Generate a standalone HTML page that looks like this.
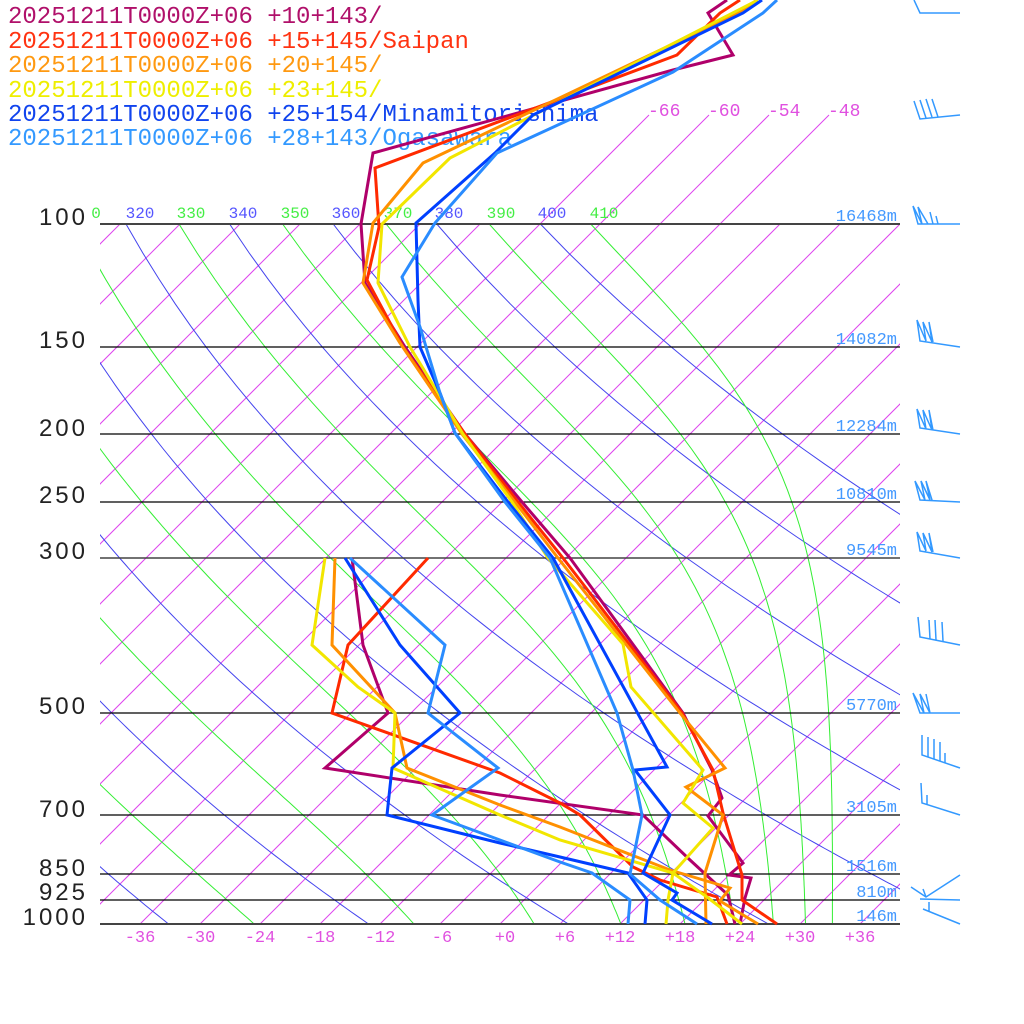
<!DOCTYPE html>
<html><head><meta charset="utf-8"><style>
html,body{margin:0;padding:0;background:#fff;}
svg{display:block;}
.lg{font-family:"Liberation Mono",monospace;font-size:24px;}
.th{font-family:"Liberation Mono",monospace;font-size:16px;text-anchor:middle;}
.it{font-family:"Liberation Mono",monospace;font-size:18px;fill:#e050e0;}
.bt{font-family:"Liberation Mono",monospace;font-size:17px;fill:#e050e0;text-anchor:middle;}
.pl{font-family:"Liberation Sans",sans-serif;font-size:24px;fill:#222;text-anchor:end;letter-spacing:3px;}
.hl{font-family:"Liberation Mono",monospace;font-size:17px;fill:#4499ff;text-anchor:end;}
.d{fill:none;stroke-width:3;stroke-linejoin:miter;}
.wb{fill:none;stroke:#3399ff;stroke-width:1.5;}
</style></head><body>
<svg id="s" width="1024" height="1024" viewBox="0 0 1024 1024" xmlns="http://www.w3.org/2000/svg">
<defs><clipPath id="c"><rect x="100" y="224" width="800" height="700"/></clipPath></defs>
<g id="grid" clip-path="url(#c)"></g>
<g id="iso2"></g>
<g stroke="#000" stroke-width="1.2">
<line x1="100" y1="224" x2="900" y2="224" stroke="#444" stroke-width="2"/>
<line x1="100" y1="347" x2="900" y2="347"/>
<line x1="100" y1="434" x2="900" y2="434"/>
<line x1="100" y1="502" x2="900" y2="502"/>
<line x1="100" y1="558" x2="900" y2="558" stroke="#444" stroke-width="1.6"/>
<line x1="100" y1="713" x2="900" y2="713"/>
<line x1="100" y1="815" x2="900" y2="815"/>
<line x1="100" y1="874" x2="900" y2="874"/>
<line x1="100" y1="900" x2="900" y2="900"/>
<line x1="100" y1="924" x2="900" y2="924" stroke="#444" stroke-width="2"/>
</g>
<g>
<text class="th" x="96" y="218" fill="#44ee44">0</text>
<text class="th" x="140" y="218" fill="#5555ff">320</text>
<text class="th" x="191" y="218" fill="#44ee44">330</text>
<text class="th" x="243" y="218" fill="#5555ff">340</text>
<text class="th" x="295" y="218" fill="#44ee44">350</text>
<text class="th" x="346" y="218" fill="#5555ff">360</text>
<text class="th" x="398" y="218" fill="#44ee44">370</text>
<text class="th" x="449" y="218" fill="#5555ff">380</text>
<text class="th" x="501" y="218" fill="#44ee44">390</text>
<text class="th" x="552" y="218" fill="#5555ff">400</text>
<text class="th" x="604" y="218" fill="#44ee44">410</text>
</g>
<text class="it" x="648" y="116">-66</text>
<text class="it" x="708" y="116">-60</text>
<text class="it" x="768" y="116">-54</text>
<text class="it" x="828" y="116">-48</text>
<g>
<text class="bt" x="140" y="942">-36</text><text class="bt" x="200" y="942">-30</text>
<text class="bt" x="260" y="942">-24</text><text class="bt" x="320" y="942">-18</text>
<text class="bt" x="380" y="942">-12</text><text class="bt" x="442" y="942">-6</text>
<text class="bt" x="505" y="942">+0</text><text class="bt" x="565" y="942">+6</text>
<text class="bt" x="620" y="942">+12</text><text class="bt" x="680" y="942">+18</text>
<text class="bt" x="740" y="942">+24</text><text class="bt" x="800" y="942">+30</text>
<text class="bt" x="860" y="942">+36</text>
</g>
<g>
<text class="pl" x="88" y="225">100</text>
<text class="pl" x="88" y="348">150</text>
<text class="pl" x="88" y="436">200</text>
<text class="pl" x="88" y="503">250</text>
<text class="pl" x="88" y="559">300</text>
<text class="pl" x="88" y="714">500</text>
<text class="pl" x="88" y="817">700</text>
<text class="pl" x="88" y="876">850</text>
<text class="pl" x="88" y="900">925</text>
<text class="pl" x="88" y="925">1000</text>
</g>
<g>
<text class="hl" x="897" y="221">16468m</text>
<text class="hl" x="897" y="344">14082m</text>
<text class="hl" x="897" y="431">12284m</text>
<text class="hl" x="897" y="499">10810m</text>
<text class="hl" x="897" y="555">9545m</text>
<text class="hl" x="897" y="710">5770m</text>
<text class="hl" x="897" y="812">3105m</text>
<text class="hl" x="897" y="871">1516m</text>
<text class="hl" x="897" y="897">810m</text>
<text class="hl" x="897" y="921">146m</text>
</g>
<g>
<text class="lg" x="8" y="23" fill="#b0106a">20251211T0000Z+06 +10+143/</text>
<text class="lg" x="8" y="48" fill="#ff3311">20251211T0000Z+06 +15+145/Saipan</text>
<text class="lg" x="8" y="72" fill="#ff9911">20251211T0000Z+06 +20+145/</text>
<text class="lg" x="8" y="97" fill="#eeee00">20251211T0000Z+06 +23+145/</text>
<text class="lg" x="8" y="121" fill="#1144ee">20251211T0000Z+06 +25+154/Minamitorishima</text>
<text class="lg" x="8" y="145" fill="#3399ff">20251211T0000Z+06 +28+143/Ogasawara</text>
</g>
<g>
<polyline class="d" stroke="#b0006a" points="727,0 708,13 733,55 673,70 373,153 361,224 365,283 405,347 465,434 522,502 570,558 683,713 712,770 722,798 708,816 743,863 729,875 751,878 745,898 740,924"/>
<polyline class="d" stroke="#b0006a" points="352,558 363,645 388,713 325,768 500,795 643,815 690,860 728,895 735,924"/>
<polyline class="d" stroke="#ff2a00" points="740,0 720,13 677,55 375,168 379,227 367,280 403,347 465,434 518,502 563,558 682,713 713,770 723,813 742,875 742,900 777,924"/>
<polyline class="d" stroke="#ff2a00" points="428,558 348,645 332,713 500,773 560,803 580,815 633,867 660,880 717,897 727,924"/>
<polyline class="d" stroke="#ff9000" points="757,0 738,13 423,163 373,223 363,283 400,343 462,434 515,502 558,558 680,713 725,768 686,787 723,815 705,873 706,924"/>
<polyline class="d" stroke="#ff9000" points="335,558 332,645 395,713 407,768 500,805 560,827 670,870 730,888 720,901 758,924"/>
<polyline class="d" stroke="#f2e600" points="758,0 450,158 382,224 378,283 410,347 463,434 512,502 548,558 623,644 631,687 703,770 683,803 713,828 673,873 668,900 666,924"/>
<polyline class="d" stroke="#f2e600" points="325,558 312,645 358,687 395,713 393,768 500,815 560,840 673,873 707,897 742,924"/>
<polyline class="d" stroke="#0040ff" points="762,0 743,13 533,115 495,153 416,223 418,300 420,347 440,393 455,433 508,502 553,558 667,767 635,770 670,815 643,873 677,893 672,900 712,924"/>
<polyline class="d" stroke="#0040ff" points="345,558 400,645 460,713 392,768 387,815 500,843 560,857 628,873 647,900 645,924"/>
<polyline class="d" stroke="#2a8cff" points="777,0 763,13 673,72 497,153 435,223 402,277 420,327 440,393 455,433 505,502 550,558 617,713 633,770 642,815 630,874 660,900 697,924"/>
<polyline class="d" stroke="#2a8cff" points="350,558 445,645 428,713 498,768 432,815 500,840 560,862 592,873 630,900 628,924"/>
</g>
<g class="wb">
<polyline points="914,0 920,13 960,13"/>
<polyline points="960,115 920,119 914,101"/>
<line x1="926" y1="118" x2="920" y2="100"/><line x1="932" y1="117" x2="926" y2="99"/><line x1="938" y1="117" x2="932" y2="99"/>
<polyline points="960,224 918,224 913,206 922,224 918,207 928,224"/>
<line x1="933" y1="224" x2="930" y2="212"/><line x1="938" y1="224" x2="936" y2="216"/>
<polyline points="960,347 920,341 917,320 926,341 923,322 932,342 929,322 933,342"/>
<polyline points="960,434 920,428 917,409 926,429 923,410 932,430 929,410 933,430"/>
<polyline points="960,502 920,500 915,481 925,500 921,481 930,500 926,481 932,500"/>
<polyline points="960,558 920,551 917,532 926,551 923,533 932,552 929,533 933,552"/>
<polyline points="960,645 920,637 918,617"/>
<line x1="930" y1="639" x2="929" y2="620"/><line x1="936" y1="640" x2="935" y2="620"/><line x1="943" y1="641" x2="942" y2="622"/>
<polyline points="960,713 920,713 913,693 924,713 920,694 930,713 926,694"/>
<polyline points="960,768 922,755 922,735"/>
<line x1="928" y1="757" x2="928" y2="737"/><line x1="934" y1="759" x2="934" y2="739"/><line x1="940" y1="761" x2="940" y2="742"/><line x1="945" y1="763" x2="945" y2="753"/>
<polyline points="960,815 922,803 921,783"/>
<line x1="927" y1="805" x2="927" y2="795"/>
<polyline points="911,887 926,897 960,875"/>
<line x1="923" y1="889" x2="926" y2="897"/>
<line x1="920" y1="899" x2="960" y2="900"/>
<polyline points="960,924 923,909"/>
<line x1="929" y1="912" x2="929" y2="902"/>
</g>
</svg>
<script>
(function(){
var NS="http://www.w3.org/2000/svg";
function Y(p){return 224+304*Math.log(p/100);}
function X(T,p){return 500+10*T+(924-Y(p));}
var g=document.getElementById("grid");
function pl(pts,col,par){var e=document.createElementNS(NS,"polyline");e.setAttribute("points",pts.map(function(a){return a[0].toFixed(1)+","+a[1].toFixed(1);}).join(" "));e.setAttribute("fill","none");e.setAttribute("stroke",col);e.setAttribute("stroke-width","1");(par||g).appendChild(e);}
for(var T=-120;T<=60;T+=6){pl([[X(T,1000),924],[X(T,100),224]],"#dd44ee");}
var g2=document.getElementById("iso2");
[-66,-60,-54,-48].forEach(function(T){var x0=X(T,100);pl([[x0,224],[x0+109,115]],"#dd44ee",g2);});
for(var th=180;th<=400;th+=20){var pts=[];for(var p=90;p<=1010;p+=10){var t=th*Math.pow(p/1000,0.2857)-273.15;pts.push([X(t,p),Y(p)]);}pl(pts,"#4444ee");}
function thetae(T,p){var Tc=T-273.15;var es=6.112*Math.exp(17.67*Tc/(Tc+243.5));var r=622*es/(p-es);return T*Math.pow(1000/p,0.2854*(1-0.00028*r))*Math.exp((3376/T-2.54)*r*0.001*(1+0.00081*r));}
function solve(te,p){var lo=150,hi=330;for(var i=0;i<50;i++){var m=(lo+hi)/2;if(thetae(m,p)<te)lo=m;else hi=m;}return (lo+hi)/2;}
for(var te=190;te<=410;te+=20){var pts=[];for(var p=90;p<=1010;p+=10){var t=solve(te,p)-273.15;pts.push([X(t,p),Y(p)]);}pl(pts,"#33ee33");}
})();
</script>
</body></html>
